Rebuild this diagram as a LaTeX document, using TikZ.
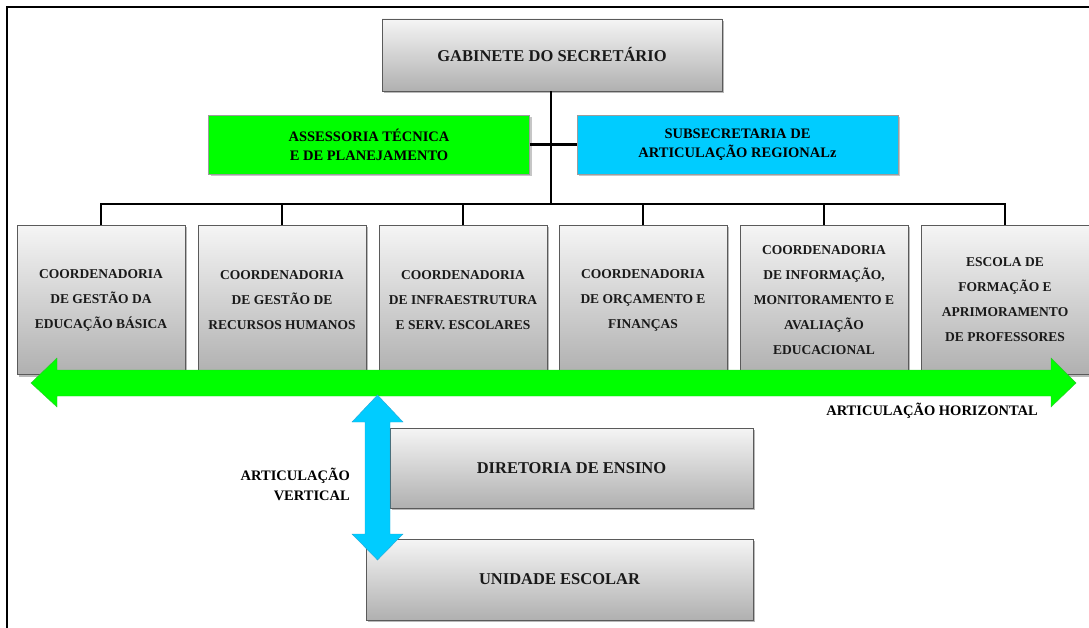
\documentclass[tikz,border=0pt]{standalone}
\usepackage{fontspec}
\setmainfont{Liberation Serif}
\usetikzlibrary{shadows}
\definecolor{boxline}{HTML}{5A5A5A}
\definecolor{arrgreen}{HTML}{00FF00}
\definecolor{arrgreenline}{HTML}{2FC42F}
\definecolor{arrblue}{HTML}{00CCFF}
\definecolor{arrblueline}{HTML}{2AA6D6}
\begin{document}
\begin{tikzpicture}[x=1pt,y=-1pt,
        orgbox/.style={draw=boxline, thick, top color=gray!8, bottom color=gray!62,
                drop shadow={opacity=0.55, shadow xshift=2pt, shadow yshift=-2pt},
                align=center, inner sep=0pt, text=black!90, font=\bfseries},
        coordbox/.style={orgbox, minimum width=168pt, minimum height=149pt,
                font=\bfseries\fontsize{13.5}{25}\selectfont},
        sidebox/.style={draw=boxline!60, minimum width=321pt, minimum height=59pt, align=center,
                drop shadow={opacity=0.45, shadow xshift=2pt, shadow yshift=-2pt},
                font=\bfseries\fontsize{14.5}{19}\selectfont},
        orgline/.style={line width=2.7pt, black},
        artlabel/.style={font=\bfseries\fontsize{14.5}{20}\selectfont, inner sep=0pt, align=right}]
        \useasboundingbox (0,0) rectangle (1089,628);
        \draw[line width=2pt] (7,628) -- (7,7) -- (1089,7);
        \node[orgbox, minimum width=340pt, minimum height=72pt, font=\bfseries\fontsize{16.5}{20}\selectfont] (gab) at (552,55) {GABINETE DO SECRETÁRIO};
        \node[sidebox, fill=arrgreen] (asses) at (369,144.5) {ASSESSORIA TÉCNICA\\E DE PLANEJAMENTO};
        \node[sidebox, fill=arrblue] (subsec) at (737.5,144.5) {SUBSECRETARIA DE\\ARTICULAÇÃO REGIONALz};
        \node[coordbox] (c1) at (101,300) {COORDENADORIA\\DE GESTÃO DA\\EDUCAÇÃO BÁSICA};
        \node[coordbox] (c2) at (282,300) {COORDENADORIA\\DE GESTÃO DE\\RECURSOS HUMANOS};
        \node[coordbox] (c3) at (463,300) {COORDENADORIA\\DE INFRAESTRUTURA\\E SERV. ESCOLARES};
        \node[coordbox] (c4) at (643,300) {COORDENADORIA\\DE ORÇAMENTO E\\FINANÇAS};
        \node[coordbox] (c5) at (824,300) {COORDENADORIA\\DE INFORMAÇÃO,\\MONITORAMENTO E\\AVALIAÇÃO\\EDUCACIONAL};
        \node[coordbox] (c6) at (1005,300) {ESCOLA DE\\FORMAÇÃO E\\APRIMORAMENTO\\DE PROFESSORES};
        \node[orgbox, minimum width=363pt, minimum height=80pt, font=\bfseries\fontsize{16.5}{20}\selectfont] (dir) at (571.5,468) {DIRETORIA DE ENSINO};
        \node[orgbox, minimum width=387pt, minimum height=81pt, font=\bfseries\fontsize{16.5}{20}\selectfont] (uni) at (559.5,579.5) {UNIDADE ESCOLAR};
        \coordinate (bus) at (551,204);
        \draw[orgline] (gab.south -| bus) -- (bus);
        \draw[orgline] (asses.east) -- (subsec.west);
        \draw[orgline] (c1.north) -- (c1.north |- bus) -- (c6.north |- bus) -- (c6.north);
        \foreach \i in {2,...,5}
                \draw[orgline] (c\i.north) -- (c\i.north |- bus);
        \draw[fill=arrgreen, draw=arrgreenline] (31,383) -- (57,358) -- (57,370) -- (1051,370) -- (1051,358) -- (1076,383)
                -- (1051,407) -- (1051,396) -- (57,396) -- (57,407) -- cycle;
        \draw[fill=arrblue, draw=arrblueline] (377.5,395) -- (403,422) -- (390,422) -- (390,534) -- (403,534) -- (377.5,560)
                -- (352,534) -- (365,534) -- (365,422) -- (352,422) -- cycle;
        \node[artlabel, anchor=east] (horiz) at (1038,411) {ARTICULAÇÃO HORIZONTAL};
        \node[artlabel, anchor=east] (vert) at (350,484) {ARTICULAÇÃO\\VERTICAL};
\end{tikzpicture}
\end{document}
